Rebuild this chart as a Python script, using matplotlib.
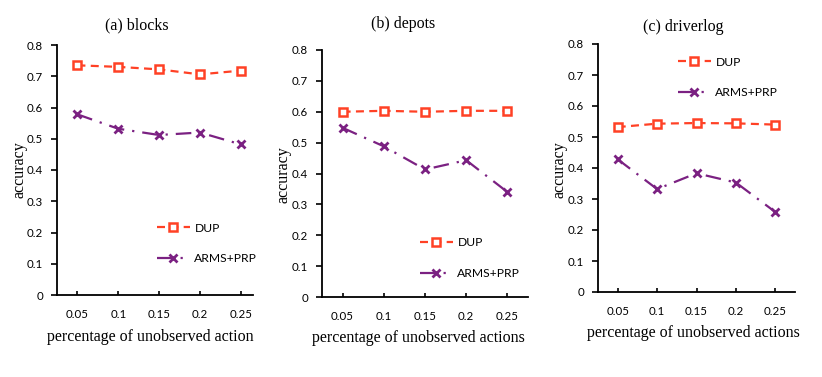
import matplotlib
matplotlib.use("Agg")
import matplotlib.pyplot as plt

W, H = 822, 377
DPI = 100

x_labels = ["0.05", "0.1", "0.15", "0.2", "0.25"]
titles = ["(a) blocks", "(b) depots", "(c) driverlog"]
xlabels = ["percentage of unobserved action", "percentage of unobserved actions",
           "percentage of unobserved actions"]

dup_blocks = [0.735, 0.730, 0.722, 0.706, 0.718]
arms_blocks = [0.578, 0.532, 0.512, 0.520, 0.482]
dup_depots = [0.600, 0.603, 0.600, 0.603, 0.603]
arms_depots = [0.548, 0.488, 0.413, 0.443, 0.340]
dup_driverlog = [0.532, 0.543, 0.545, 0.544, 0.540]
arms_driverlog = [0.428, 0.332, 0.383, 0.353, 0.258]

dup_series = [dup_blocks, dup_depots, dup_driverlog]
arms_series = [arms_blocks, arms_depots, arms_driverlog]

RED = "#FF4125"
PURPLE = "#7B2182"
SERIF = "Liberation Serif"
SANS = "Lato"

# panel geometry in pixels: left, right, top(0.8), bottom(0), xlim right
panels = [
    (57, 253, 45, 295, 5.3),
    (322, 528, 50, 297, 5.5),
    (598, 795, 44, 292, 5.5),
]
title_pos = [(137, 25), (403, 24), (683, 27)]
xlabel_pos = [(150, 337), (418, 338), (693, 333)]
ylabel_pos = [(20, 170), (283, 175), (560, 170)]
legend_pos = [(157, 243.5), (420, 258), (678, 77.5)]

fig = plt.figure(figsize=(W / DPI, H / DPI), dpi=DPI)

def fx(px):
    return px / W

def fy(py):
    return 1 - py / H

xs = list(range(1, len(x_labels) + 1))

for i in range(3):
    l, r, t, b, xr = panels[i]
    ax = fig.add_axes([fx(l), fy(b), (r - l) / W, (b - t) / H])
    ax.plot(xs, dup_series[i], color=RED, lw=1.6, dashes=(3.6, 2.4),
            marker="s", markersize=5.2, markerfacecolor="white",
            markeredgecolor=RED, markeredgewidth=1.8, label="DUP")
    ax.plot(xs, arms_series[i], color=PURPLE, lw=1.6, dashes=(7, 3.6, 1, 3.6),
            marker="x", markersize=5.8, markeredgewidth=2.0,
            markeredgecolor=PURPLE, label="ARMS+PRP")
    ax.set_ylim(0, 0.8)
    ax.set_xlim(0.5, xr)
    ax.set_yticks([0, 0.1, 0.2, 0.3, 0.4, 0.5, 0.6, 0.7, 0.8])
    ax.set_yticklabels(["0", "0.1", "0.2", "0.3", "0.4", "0.5", "0.6", "0.7", "0.8"])
    ax.set_xticks(xs)
    ax.set_xticklabels(x_labels)
    for s in ["top", "right"]:
        ax.spines[s].set_visible(False)
    for s in ["left", "bottom"]:
        ax.spines[s].set_linewidth(1.3)
        ax.spines[s].set_color("black")
    ax.tick_params(axis="y", direction="out", length=4, width=1.2, pad=6,
                   labelsize=8.3)
    ax.tick_params(axis="x", direction="in", length=3, width=1.2, pad=10,
                   labelsize=8.3)
    for lab in ax.get_xticklabels() + ax.get_yticklabels():
        lab.set_fontfamily(SANS)
    tx, ty = title_pos[i]
    fig.text(fx(tx), fy(ty), titles[i], ha="center", va="center",
             family=SERIF, fontsize=11.5)
    lx, ly = xlabel_pos[i]
    fig.text(fx(lx), fy(ly), xlabels[i], ha="center", va="center",
             family=SERIF, fontsize=11.5)
    yx, yy = ylabel_pos[i]
    fig.text(fx(yx), fy(yy), "accuracy", ha="center", va="center",
             rotation=90, family=SERIF, fontsize=11.5)
    gx, gy = legend_pos[i]
    leg = ax.legend(loc="center left", bbox_to_anchor=(fx(gx), fy(gy)),
                    bbox_transform=fig.transFigure, frameon=False,
                    borderpad=0, borderaxespad=0, handlelength=2.7,
                    handletextpad=0.4, labelspacing=1.65,
                    prop={"family": SANS, "size": 8.7})

fig.savefig("out.png", dpi=DPI)
